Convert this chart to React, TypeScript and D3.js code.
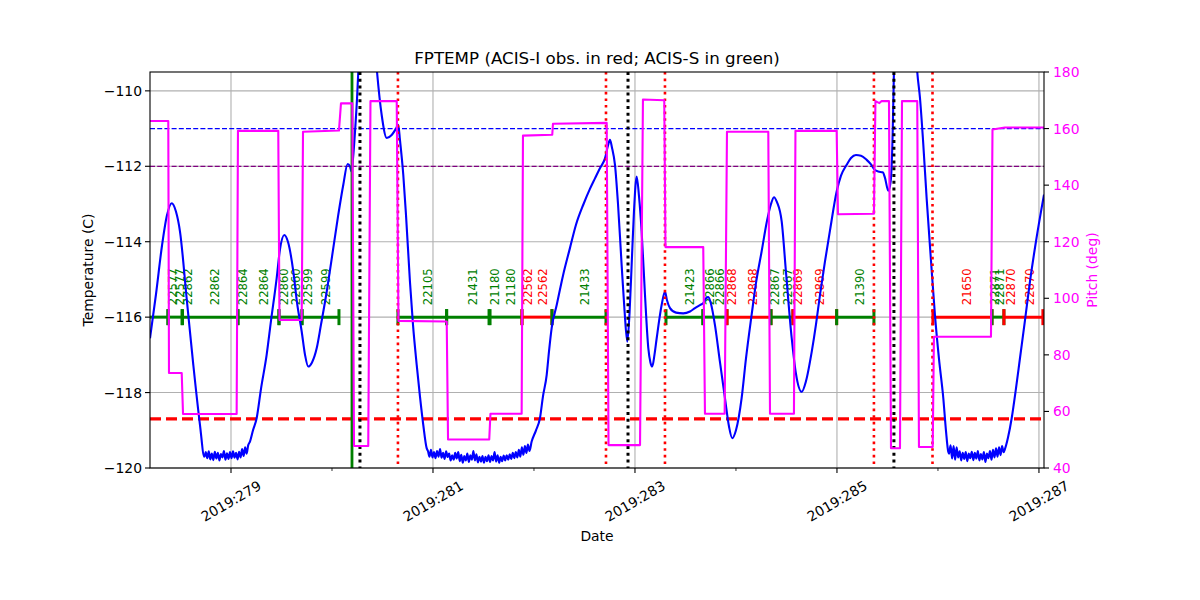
import React from "react";
import * as d3 from "d3";

// ---------- data ----------
const xDomain = [278.198, 287.05];
const tempDomain = [-120, -109.5];
const pitchDomain = [40, 180];
const xMajorTicks = [279, 281, 283, 285, 287];
const xMinorTicks = [280, 282, 284, 286];
const tempTicks = [-120, -118, -116, -114, -112, -110];
const pitchTicks = [40, 60, 80, 100, 120, 140, 160, 180];

const title = "FPTEMP (ACIS-I obs. in red; ACIS-S in green)";

// FPTEMP (C) vs day of year
const tempSeries: [number, number][] = [
  [278.198, -116.56], [278.257, -115.4], [278.317, -114.1], [278.366, -113.3], [278.413, -112.98],
  [278.455, -113.2], [278.495, -113.73], [278.561, -115.5], [278.627, -117.27], [278.693, -118.86],
  [278.736, -119.7],
  [278.750, -119.58], [278.765, -119.74], [278.780, -119.56], [278.795, -119.77], [278.810, -119.62],
  [278.825, -119.79], [278.840, -119.57], [278.855, -119.75], [278.870, -119.60], [278.885, -119.80],
  [278.900, -119.63], [278.915, -119.72], [278.930, -119.55], [278.945, -119.78], [278.960, -119.61],
  [278.975, -119.76], [278.990, -119.58], [279.005, -119.74], [279.020, -119.56], [279.035, -119.73],
  [279.050, -119.60], [279.065, -119.77], [279.080, -119.57], [279.095, -119.72], [279.110, -119.50],
  [279.125, -119.68], [279.140, -119.45], [279.155, -119.62], [279.170, -119.40],
  [279.188, -119.3], [279.218, -119.0], [279.254, -118.68], [279.297, -117.9], [279.353, -117.0],
  [279.396, -116.1], [279.452, -114.97], [279.485, -114.2], [279.528, -113.82], [279.564, -114.0],
  [279.617, -114.79], [279.653, -115.6], [279.700, -116.38], [279.733, -117.0], [279.765, -117.31],
  [279.802, -117.2], [279.849, -116.82], [279.891, -116.2], [279.948, -115.32], [280.000, -114.4],
  [280.062, -113.29], [280.112, -112.49], [280.155, -111.94], [280.178, -112.0], [280.193, -112.14],
  [280.208, -111.8], [280.228, -111.08], [280.248, -110.2], [280.262, -109.4], [280.297, -107.5],
  [280.356, -106.5], [280.416, -108.5], [280.446, -109.5], [280.492, -110.64], [280.542, -111.25],
  [280.591, -111.17], [280.634, -111.0], [280.656, -110.9], [280.673, -111.3], [280.706, -112.23],
  [280.733, -113.3], [280.772, -115.06], [280.802, -116.2], [280.839, -117.27], [280.871, -118.1],
  [280.904, -118.86], [280.938, -119.48],
  [280.950, -119.55], [280.965, -119.70], [280.980, -119.52], [280.995, -119.72], [281.010, -119.58],
  [281.025, -119.74], [281.040, -119.55], [281.055, -119.70], [281.070, -119.50], [281.085, -119.73],
  [281.100, -119.60], [281.115, -119.76], [281.130, -119.56], [281.145, -119.71], [281.160, -119.62],
  [281.175, -119.80], [281.190, -119.66], [281.205, -119.78], [281.220, -119.60], [281.235, -119.75],
  [281.250, -119.58], [281.265, -119.82], [281.280, -119.65], [281.295, -119.86], [281.310, -119.68],
  [281.325, -119.80], [281.340, -119.62], [281.355, -119.84], [281.370, -119.66], [281.385, -119.78],
  [281.400, -119.55], [281.415, -119.80], [281.430, -119.64], [281.445, -119.85], [281.460, -119.70],
  [281.475, -119.83], [281.490, -119.68], [281.505, -119.86], [281.520, -119.70], [281.535, -119.82],
  [281.550, -119.66], [281.565, -119.84], [281.580, -119.68], [281.595, -119.80], [281.610, -119.58],
  [281.625, -119.83], [281.640, -119.66], [281.655, -119.86], [281.670, -119.70], [281.685, -119.82],
  [281.700, -119.67], [281.715, -119.80], [281.730, -119.66], [281.745, -119.78], [281.760, -119.64],
  [281.775, -119.76], [281.790, -119.60], [281.805, -119.74], [281.820, -119.58], [281.835, -119.72],
  [281.850, -119.52], [281.865, -119.70], [281.880, -119.45], [281.895, -119.65], [281.910, -119.42],
  [281.925, -119.60], [281.940, -119.38], [281.955, -119.55],
  [281.977, -119.3], [282.020, -119.0], [282.059, -118.68], [282.089, -118.1], [282.126, -117.53],
  [282.149, -116.9], [282.175, -116.29], [282.225, -115.68], [282.287, -114.9], [282.356, -114.17],
  [282.416, -113.55], [282.488, -113.02], [282.554, -112.6], [282.604, -112.32], [282.653, -112.05],
  [282.703, -111.79], [282.733, -111.45], [282.752, -111.3], [282.772, -111.5], [282.802, -111.96],
  [282.832, -113.0], [282.868, -114.62], [282.896, -115.8], [282.924, -116.65], [282.946, -115.9],
  [282.967, -114.62], [282.990, -113.2], [283.017, -112.27], [283.040, -112.8], [283.066, -113.73],
  [283.099, -115.4], [283.132, -116.82], [283.153, -117.2], [283.171, -117.31], [283.193, -117.0],
  [283.215, -116.56], [283.264, -115.68], [283.297, -115.32], [283.317, -115.55], [283.347, -115.76],
  [283.406, -115.88], [283.478, -115.9], [283.545, -115.85], [283.594, -115.76], [283.644, -115.68],
  [283.676, -115.63], [283.703, -115.5], [283.726, -115.47], [283.753, -115.65], [283.792, -116.21],
  [283.842, -117.2], [283.891, -118.15], [283.931, -118.9], [283.963, -119.21], [284.000, -119.0],
  [284.056, -118.15], [284.099, -117.1], [284.155, -115.94], [284.198, -115.1], [284.254, -114.26],
  [284.307, -113.45], [284.347, -113.0], [284.376, -112.82], [284.406, -112.95], [284.453, -113.47],
  [284.495, -114.8], [284.552, -116.56], [284.594, -117.5], [284.651, -117.98], [284.693, -117.7],
  [284.750, -116.92], [284.792, -116.2], [284.832, -115.41], [284.881, -114.53], [284.931, -113.7],
  [284.997, -112.67], [285.040, -112.25], [285.096, -111.96], [285.139, -111.78], [285.188, -111.7],
  [285.238, -111.72], [285.294, -111.83], [285.337, -111.95], [285.376, -112.1], [285.409, -112.14],
  [285.453, -112.16], [285.475, -112.3], [285.508, -112.65], [285.532, -112.4], [285.552, -111.08],
  [285.564, -109.5], [285.594, -107.5], [285.673, -106.5], [285.752, -107.5], [285.795, -109.5],
  [285.822, -110.19], [285.852, -111.3], [285.888, -112.85], [285.931, -114.5], [285.970, -115.94],
  [286.010, -117.1], [286.053, -118.15], [286.079, -119.0], [286.102, -119.57],
  [286.110, -119.62], [286.125, -119.40], [286.140, -119.75], [286.155, -119.42], [286.170, -119.78],
  [286.185, -119.45], [286.200, -119.72], [286.215, -119.56], [286.230, -119.80], [286.245, -119.60],
  [286.260, -119.76], [286.275, -119.58], [286.290, -119.82], [286.305, -119.62], [286.320, -119.74],
  [286.335, -119.57], [286.350, -119.79], [286.365, -119.60], [286.380, -119.75], [286.395, -119.55],
  [286.410, -119.80], [286.425, -119.63], [286.440, -119.77], [286.455, -119.58], [286.470, -119.84],
  [286.485, -119.62], [286.500, -119.74], [286.515, -119.55], [286.530, -119.78], [286.545, -119.52],
  [286.560, -119.72], [286.575, -119.48], [286.590, -119.70], [286.605, -119.45], [286.620, -119.66],
  [286.635, -119.42], [286.650, -119.58],
  [286.663, -119.5], [286.693, -119.2], [286.730, -118.68], [286.772, -117.9], [286.812, -117.09],
  [286.861, -116.1], [286.911, -115.06], [286.970, -114.0], [287.050, -112.75],
];

// Pitch (deg) vs day of year
const pitchSeries: [number, number][] = [
  [278.198, 162.7], [278.379, 162.7], [278.386, 73.6], [278.512, 73.6], [278.525, 59.1],
  [279.056, 59.1], [279.069, 159.2], [279.468, 159.2], [279.480, 92.3], [279.700, 92.3],
  [279.713, 158.9], [280.069, 159.3], [280.089, 168.9], [280.201, 168.9], [280.218, 47.8],
  [280.359, 47.8], [280.381, 169.7], [280.641, 169.7], [280.658, 92.0], [281.136, 91.8],
  [281.149, 50.1], [281.557, 50.1], [281.569, 59.2], [281.878, 59.2], [281.891, 157.5],
  [282.181, 157.8], [282.188, 161.7], [282.720, 162.0], [282.738, 48.1], [283.050, 48.1],
  [283.079, 170.3], [283.290, 170.0], [283.302, 118.1], [283.676, 118.1], [283.693, 59.2],
  [283.888, 59.2], [283.911, 158.9], [284.320, 158.9], [284.337, 59.2], [284.574, 59.2],
  [284.589, 159.2], [284.997, 159.2], [285.010, 129.7], [285.366, 129.9], [285.381, 169.7],
  [285.420, 169.0], [285.440, 169.7], [285.515, 169.7], [285.535, 47.0], [285.624, 47.0],
  [285.644, 169.7], [285.795, 169.7], [285.812, 47.4], [285.948, 47.4], [285.960, 86.4],
  [286.525, 86.4], [286.540, 159.7], [286.663, 160.4], [287.050, 160.4],
];

// Observation bar: start, stop, instrument (I = ACIS-I red, S = ACIS-S green)
const obsStart = [278.10, 278.376, 278.520, 279.069, 279.475, 279.703, 280.653, 281.135, 281.565, 281.881, 282.178, 283.307, 283.673, 283.911, 284.347, 284.564, 284.997, 285.950, 286.535, 286.653];
const obsStop = [278.376, 278.515, 279.069, 279.475, 279.703, 280.069, 281.135, 281.555, 281.881, 282.178, 282.713, 283.673, 283.911, 284.347, 284.564, 284.997, 285.366, 286.535, 286.653, 287.039];
const obsInst = ["S", "S", "S", "S", "S", "S", "S", "S", "S", "I", "S", "S", "S", "I", "S", "I", "S", "I", "S", "I"];

// Obsid labels
const labelTimes = [278.426, 278.495, 278.574, 278.842, 279.119, 279.327, 279.525, 279.644, 279.762, 279.941, 280.950, 281.396, 281.614, 281.772, 281.941, 282.089, 282.505, 283.545, 283.743, 283.842, 283.960, 284.168, 284.386, 284.515, 284.614, 284.832, 285.228, 286.287, 286.564, 286.614, 286.723, 286.911];
const labelIds = ["22577", "22577", "22862", "22862", "22864", "22864", "22860", "22860", "22599", "22599", "22105", "21431", "21180", "21180", "22562", "22562", "21433", "21423", "22866", "22866", "22868", "22868", "22867", "22867", "22869", "22869", "21390", "21650", "22871", "22871", "22870", "22870"];
const labelInst = ["S", "S", "S", "S", "S", "S", "S", "S", "S", "S", "S", "S", "S", "S", "I", "I", "S", "S", "S", "S", "I", "I", "S", "S", "I", "I", "S", "I", "S", "S", "I", "I"];

const obsLevel = -116;
const greenVLines = [280.198];
const blackDottedVLines = [280.277, 282.931, 285.564];
const redDottedVLines = [280.653, 282.713, 283.297, 285.366, 285.946];
const blueLimit = -111;
const purpleLimit = -112;
const redLimit = -118.7;

// ---------- chart ----------
const W = 1200, H = 600;
const L = 150, R = 1044, T = 72, B = 468;
const FONT = "DejaVu Sans, sans-serif";

export default function App() {
  const x = d3.scaleLinear().domain(xDomain).range([L, R]);
  const yT = d3.scaleLinear().domain(tempDomain).range([B, T]);
  const yP = d3.scaleLinear().domain(pitchDomain).range([B, T]);
  const tempLine = d3.line<[number, number]>().x(d => x(d[0])).y(d => yT(d[1])).curve(d3.curveMonotoneX);
  const pitchLine = d3.line<[number, number]>().x(d => x(d[0])).y(d => yP(d[1]));
  const instColor = (s: string) => (s === "I" ? "#ff0000" : "#008000");
  const yObs = yT(obsLevel);

  return (
    <svg width={W} height={H} style={{ position: "absolute", left: 0, top: 0, background: "#fff" }} fontFamily={FONT}>
      <defs>
        <clipPath id="plotclip">
          <rect x={L} y={T} width={R - L} height={B - T} />
        </clipPath>
      </defs>
      <rect x={0} y={0} width={W} height={H} fill="#fff" />
      {/* grid */}
      <g stroke="#b0b0b0" strokeWidth={1.1}>
        {xMajorTicks.map(t => (
          <line key={"gx" + t} x1={x(t)} x2={x(t)} y1={T} y2={B} />
        ))}
        {tempTicks.map(t => (
          <line key={"gy" + t} x1={L} x2={R} y1={yT(t)} y2={yT(t)} />
        ))}
      </g>
      <g clipPath="url(#plotclip)">
        {/* limit lines */}
        <line x1={L} x2={R} y1={yT(blueLimit)} y2={yT(blueLimit)} stroke="#0000ff" strokeWidth={1.3} strokeDasharray="5,2.2" />
        <line x1={L} x2={R} y1={yT(purpleLimit)} y2={yT(purpleLimit)} stroke="#800080" strokeWidth={1.3} strokeDasharray="5,2.2" />
        <line x1={L} x2={R} y1={yT(redLimit)} y2={yT(redLimit)} stroke="#ff0000" strokeWidth={3.2} strokeDasharray="11,5" />
        {/* observation bars */}
        {obsStart.map((s, i) => (
          <g key={"ob" + i} stroke={instColor(obsInst[i])}>
            <line x1={x(s)} x2={x(obsStop[i])} y1={yObs} y2={yObs} strokeWidth={3} />
            <line x1={x(s)} x2={x(s)} y1={yObs - 8} y2={yObs + 8} strokeWidth={3} />
            <line x1={x(obsStop[i])} x2={x(obsStop[i])} y1={yObs - 8} y2={yObs + 8} strokeWidth={3} />
          </g>
        ))}
        {labelTimes.map((t, i) => (
          <text
            key={"lb" + i}
            transform={`translate(${x(t)},${yObs - 12}) rotate(-90)`}
            fontSize={11.6}
            fill={instColor(labelInst[i])}
            dominantBaseline="central"
            textAnchor="start"
          >
            {labelIds[i]}
          </text>
        ))}
        {/* temperature */}
        <path d={tempLine(tempSeries) || ""} fill="none" stroke="#0000ff" strokeWidth={2.1} strokeLinejoin="round" />
        {/* vertical event lines */}
        {greenVLines.map(t => (
          <line key={"gv" + t} x1={x(t)} x2={x(t)} y1={T} y2={B} stroke="#008000" strokeWidth={2.8} />
        ))}
        {blackDottedVLines.map(t => (
          <line key={"bv" + t} x1={x(t)} x2={x(t)} y1={T} y2={B} stroke="#000" strokeWidth={3} strokeDasharray="3,3.8" />
        ))}
        {redDottedVLines.map(t => (
          <line key={"rv" + t} x1={x(t)} x2={x(t)} y1={T} y2={B} stroke="#ff0000" strokeWidth={2.6} strokeDasharray="2.6,4" />
        ))}
        {/* pitch */}
        <path d={pitchLine(pitchSeries) || ""} fill="none" stroke="#ff00ff" strokeWidth={2.1} strokeLinejoin="round" />
      </g>
      {/* frame */}
      <rect x={L} y={T} width={R - L} height={B - T} fill="none" stroke="#000" strokeWidth={1.1} />
      {/* x axis */}
      {xMajorTicks.map(t => (
        <g key={"xt" + t}>
          <line x1={x(t)} x2={x(t)} y1={B} y2={B + 5} stroke="#000" strokeWidth={1.1} />
          <text
            transform={`translate(${x(t)},${B + 33}) rotate(-30)`}
            fontSize={13.9}
            textAnchor="middle"
            dominantBaseline="central"
          >
            {`2019:${t}`}
          </text>
        </g>
      ))}
      {xMinorTicks.map(t => (
        <line key={"xm" + t} x1={x(t)} x2={x(t)} y1={B} y2={B + 3} stroke="#000" strokeWidth={0.8} />
      ))}
      <text x={(L + R) / 2} y={541} fontSize={13.9} textAnchor="middle">Date</text>
      {/* left axis */}
      {tempTicks.map(t => (
        <g key={"yt" + t}>
          <line x1={L - 5} x2={L} y1={yT(t)} y2={yT(t)} stroke="#000" strokeWidth={1.1} />
          <text x={L - 8} y={yT(t)} fontSize={13.9} textAnchor="end" dominantBaseline="central">
            {d3.format("")(t).replace("-", "\u2212")}
          </text>
        </g>
      ))}
      <text transform={`translate(88,${(T + B) / 2}) rotate(-90)`} fontSize={13.9} textAnchor="middle" dominantBaseline="central">
        Temperature (C)
      </text>
      {/* right axis */}
      {pitchTicks.map(t => (
        <g key={"pt" + t}>
          <line x1={R} x2={R + 5} y1={yP(t)} y2={yP(t)} stroke="#000" strokeWidth={1.1} />
          <text x={R + 9} y={yP(t)} fontSize={13.9} fill="#ff00ff" textAnchor="start" dominantBaseline="central">
            {t}
          </text>
        </g>
      ))}
      <text transform={`translate(1092,${(T + B) / 2}) rotate(-90)`} fontSize={13.9} fill="#ff00ff" textAnchor="middle" dominantBaseline="central">
        Pitch (deg)
      </text>
      {/* title */}
      <text x={(L + R) / 2} y={64} fontSize={16.7} textAnchor="middle">{title}</text>
    </svg>
  );
}
